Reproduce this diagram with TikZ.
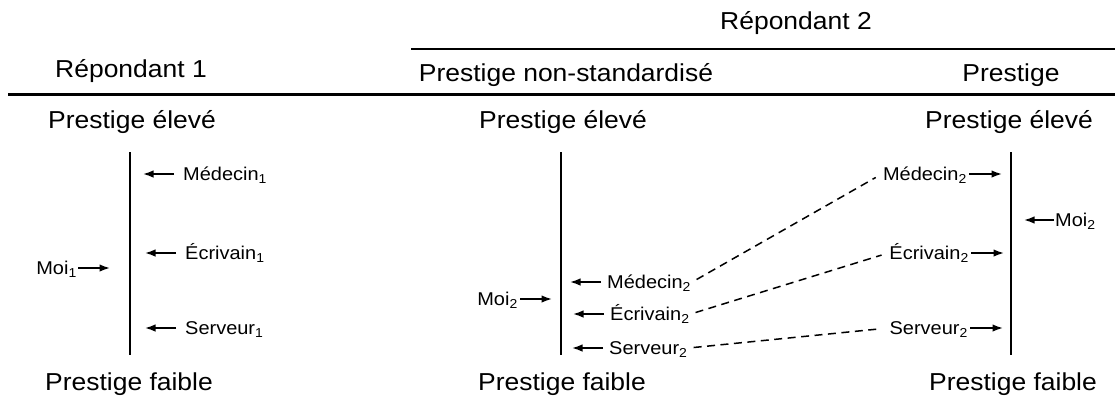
\documentclass[tikz,border=0pt]{standalone}
\usepackage{fontspec}
\setmainfont{Liberation Sans}[FakeStretch=1.08]
\usepackage{tikz}
\usetikzlibrary{arrows.meta}

\tikzset{
  big/.style={font=\fontsize{24.5}{28}\selectfont,inner sep=0pt,text height=17.5pt,text depth=0pt},
  lbl/.style={font=\fontsize{18.5}{22}\selectfont,inner sep=1pt,text height=13.2pt,text depth=0pt},
  pt/.style={-{Latex[length=10.5pt,width=7.5pt]},line width=1.6pt},
  link/.style={line width=1.5pt,dash pattern=on 8pt off 5.5pt,shorten <=5pt,shorten >=7pt},
  rule/.style={line width=2.2pt},
}

\begin{document}
\begin{tikzpicture}[x=1pt,y=-1pt]
\useasboundingbox (0,0) rectangle (1115,408);
\node[big] (rep2) at (796,21) {Répondant 2};
\draw[rule] (411,49) -- (1115,49);
\node[big] (rep1) at (131,68.5) {Répondant 1};
\node[big] (nstd) at (566,73) {Prestige non-standardisé};
\node[big] (std) at (1011,73) {Prestige};
\draw[rule] (8,94.5) -- (1115,94.5);
\node[big] (hi1) at (132,120) {Prestige élevé};
\node[big] (hi2) at (563,120) {Prestige élevé};
\node[big] (hi3) at (1009,120) {Prestige élevé};
\node[big] (lo1) at (129,381.5) {Prestige faible};
\node[big] (lo2) at (562,381.5) {Prestige faible};
\node[big] (lo3) at (1013,381.5) {Prestige faible};
\draw[rule] (130,152) -- (130,355);
\draw[rule] (561,152) -- (561,355);
\draw[rule] (1011,152) -- (1011,355);

\node[lbl,anchor=west] (med1) at (182,174) {Médecin\textsubscript{1}};
\node[lbl,anchor=west] (ecr1) at (184,253) {Écrivain\textsubscript{1}};
\node[lbl,anchor=west] (ser1) at (184,328) {Serveur\textsubscript{1}};
\node[lbl,anchor=east] (moi1) at (78,268) {Moi\textsubscript{1}};
\draw[pt] ([xshift=-8pt]med1.west) -- ++(-31,0);
\draw[pt] ([xshift=-8pt]ecr1.west) -- ++(-31,0);
\draw[pt] ([xshift=-8pt]ser1.west) -- ++(-31,0);
\draw[pt] (moi1.east) -- ++(32,0);

\node[lbl,anchor=west] (med2) at (606,282) {Médecin\textsubscript{2}};
\node[lbl,anchor=west] (ecr2) at (609,314) {Écrivain\textsubscript{2}};
\node[lbl,anchor=west] (ser2) at (608,348) {Serveur\textsubscript{2}};
\node[lbl,anchor=east] (moi2) at (519,299) {Moi\textsubscript{2}};
\draw[pt] ([xshift=-5pt]med2.west) -- ++(-31,0);
\draw[pt] ([xshift=-5pt]ecr2.west) -- ++(-31,0);
\draw[pt] ([xshift=-5pt]ser2.west) -- ++(-31,0);
\draw[pt] ([xshift=1pt]moi2.east) -- ++(32,0);

\node[lbl,anchor=east] (med3) at (968,174) {Médecin\textsubscript{2}};
\node[lbl,anchor=east] (ecr3) at (970,253) {Écrivain\textsubscript{2}};
\node[lbl,anchor=east] (ser3) at (969,328) {Serveur\textsubscript{2}};
\node[lbl,anchor=west] (moi3) at (1054,220) {Moi\textsubscript{2}};
\draw[pt] ([xshift=1pt]med3.east) -- ++(33,0);
\draw[pt] ([xshift=1pt]ecr3.east) -- ++(33,0);
\draw[pt] ([xshift=1pt]ser3.east) -- ++(33,0);
\draw[pt] (moi3.west) -- ++(-30,0);

\draw[link] (med2.east) -- (med3.west);
\draw[link] (ecr2.east) -- (ecr3.west);
\draw[link] (ser2.east) -- (ser3.west);
\end{tikzpicture}
\end{document}
